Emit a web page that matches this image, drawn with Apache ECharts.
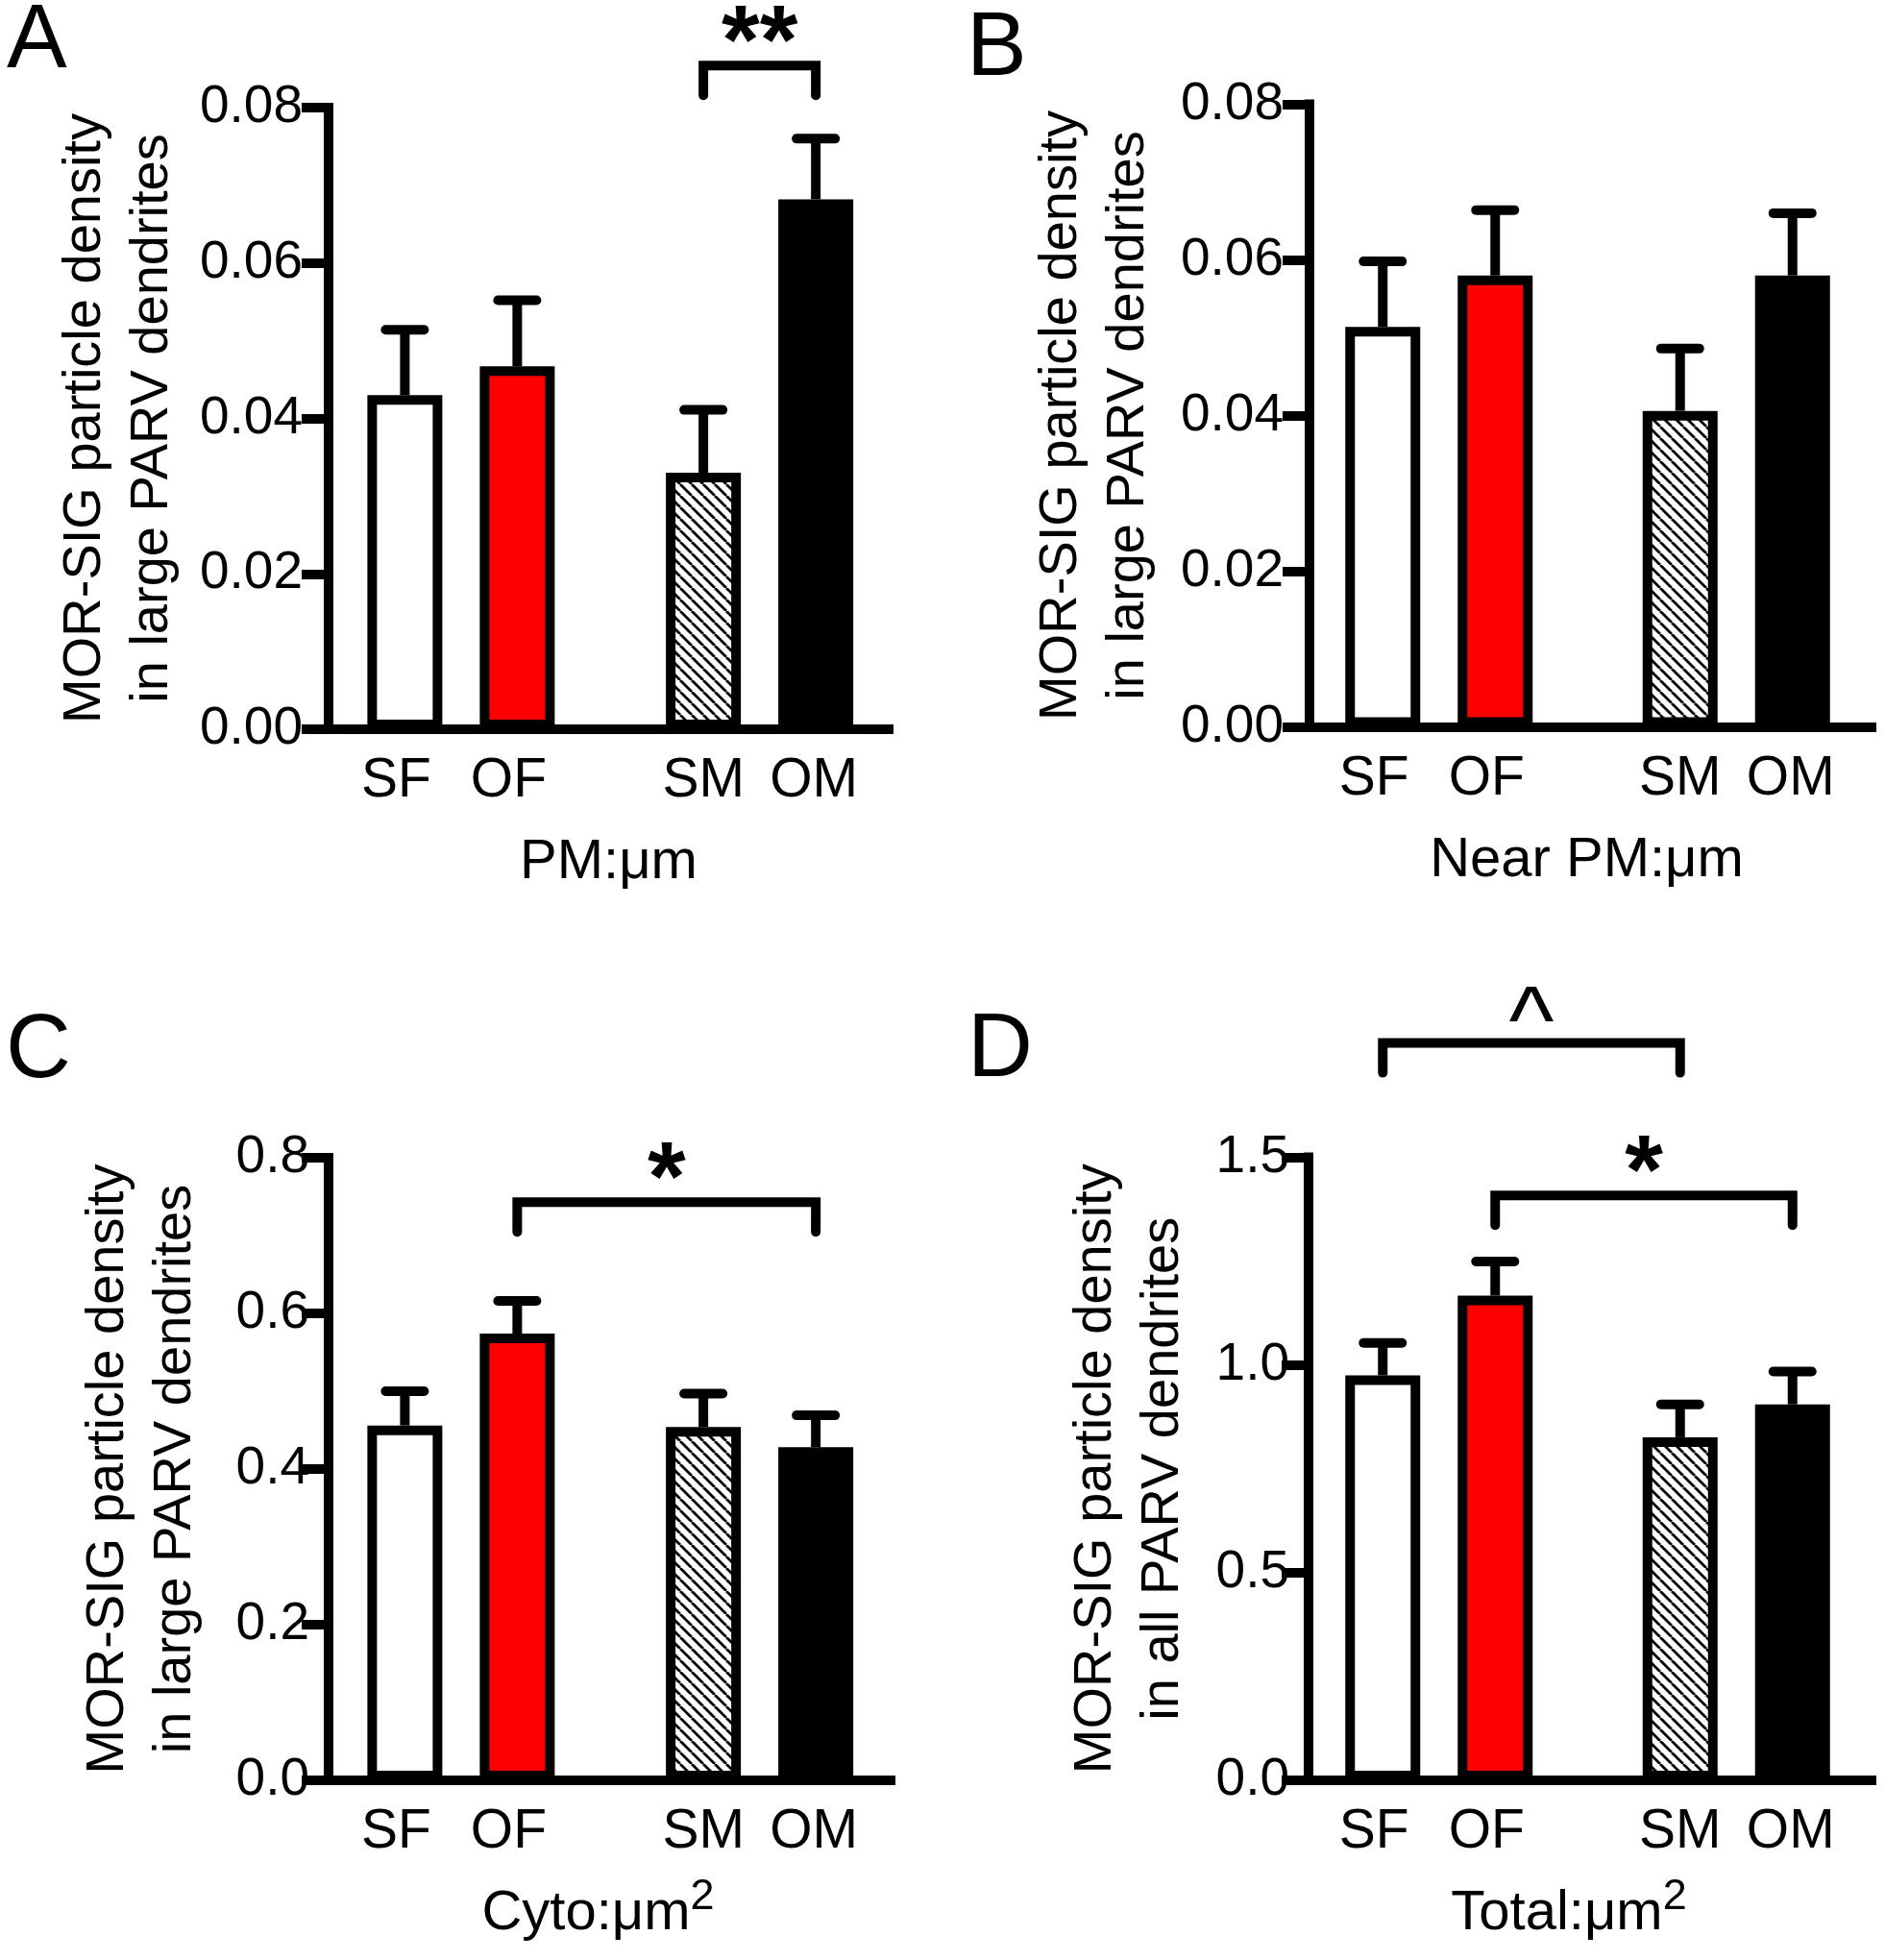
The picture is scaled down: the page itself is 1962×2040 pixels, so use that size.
<!DOCTYPE html>
<html><head><meta charset="utf-8">
<script src="https://cdn.jsdelivr.net/npm/echarts@6/dist/echarts.min.js"></script>
<style>html,body{margin:0;padding:0;background:#fff}#c{width:1962px;height:2040px}</style>
</head><body><div id="c"></div>
<script>
// ---------------- data ----------------
const barLabels = ['SF', 'OF', 'SM', 'OM'];
const sexGroups = ['F', 'M'];
const meanA  = [0.0430, 0.0467, 0.0330, 0.0682];
const upperA = [0.0514, 0.0552, 0.0411, 0.0760];
const meanB  = [0.0514, 0.0580, 0.0406, 0.0580];
const upperB = [0.0598, 0.0664, 0.0486, 0.0660];
const meanC  = [0.456, 0.574, 0.454, 0.428];
const upperC = [0.500, 0.616, 0.497, 0.469];
const meanD  = [0.975, 1.167, 0.826, 0.905];
const upperD = [1.053, 1.249, 0.905, 0.984];
const ticksAB = [0, 0.02, 0.04, 0.06, 0.08];
const ticksC  = [0, 0.2, 0.4, 0.6, 0.8];
const ticksD  = [0, 0.5, 1.0, 1.5];
const xNames = ['PM:μm', 'Near PM:μm', 'Cyto:μm²', 'Total:μm²'];
const yNames = ['MOR-SIG particle density\nin large PARV dendrites',
                'MOR-SIG particle density\nin large PARV dendrites',
                'MOR-SIG particle density\nin large PARV dendrites',
                'MOR-SIG particle density\nin all PARV dendrites'];
const panelLetters = ['A', 'B', 'C', 'D'];
// significance brackets: [from, to, level (data units), mark]
const bracketsA = [['SM', 'OM', 0.0854, '**']];
const bracketsB = [];
const bracketsC = [['OF', 'OM', 0.743, '*']];
const bracketsD = [['SF', 'SM', 1.775, '^'], ['OF', 'OM', 1.408, '*']];

// ---------------- styles / layout ----------------
const FONT = '"Liberation Sans", Arial, Helvetica, sans-serif';
const BAR_W = 78, BAR_GAP = 0.5, BORDER = 10;
const SPACING = BAR_W * (1 + BAR_GAP);
function makeHatch() {
  const s = 12, c = document.createElement('canvas');
  c.width = s; c.height = s;
  const g = c.getContext('2d');
  g.fillStyle = '#fff'; g.fillRect(0, 0, s, s);
  g.strokeStyle = '#000'; g.lineWidth = 2.8;
  g.beginPath();
  for (let k = -1; k <= 1; k++) { g.moveTo(k * s, 0); g.lineTo(k * s + s, s); }
  g.stroke();
  return c;
}
const fills = ['#ffffff', '#ff0000', { image: makeHatch(), repeat: 'repeat' }, '#000000'];
const labelShift = [-9, -9, 0, -2];

const layouts = [
  { axisX: 342, axisEnd: 925, top: 112, bottom: 759, barLeft: 324.5, barWidth: 621.5, letterLeft: 7, letterTop: -3, nameGap: 148, labelMargin: 27, dec: 2, tickFont: 55, xShift: 0 },
  { axisX: 1363, axisEnd: 1948, top: 108.5, bottom: 756.5, barLeft: 1343, barWidth: 623, letterLeft: 1006, letterTop: 5, nameGap: 153, labelMargin: 27, dec: 2, tickFont: 55, xShift: -4 },
  { axisX: 342, axisEnd: 927, top: 1205, bottom: 1853, barLeft: 324.5, barWidth: 621.5, letterLeft: 6, letterTop: 1048, nameGap: 124, labelMargin: 20, dec: 1, tickFont: 55, xShift: -12 },
  { axisX: 1362, axisEnd: 1948, top: 1204.5, bottom: 1853, barLeft: 1343, barWidth: 623, letterLeft: 1007, letterTop: 1047, nameGap: 116, labelMargin: 20, dec: 1, tickFont: 55, xShift: -22 }
];
const panelData = [
  { mean: meanA, upper: upperA, ticks: ticksAB, brackets: bracketsA },
  { mean: meanB, upper: upperB, ticks: ticksAB, brackets: bracketsB },
  { mean: meanC, upper: upperC, ticks: ticksC, brackets: bracketsC },
  { mean: meanD, upper: upperD, ticks: ticksD, brackets: bracketsD }
];

const groupOf = i => i >> 1;   // SF,OF -> F ; SM,OM -> M
const treatOf = i => i % 2;    // S -> 0 ; O -> 1

const option = { animation: false, backgroundColor: '#fff', title: [], grid: [], xAxis: [], yAxis: [], series: [] };

panelData.forEach((pd, p) => {
  const L = layouts[p];
  const ymin = pd.ticks[0], ymax = pd.ticks[pd.ticks.length - 1], yint = pd.ticks[1] - pd.ticks[0];
  const gAxes = p * 2, gBars = p * 2 + 1;

  option.title.push({ text: panelLetters[p], left: L.letterLeft, top: L.letterTop, padding: 0,
    textStyle: { fontSize: 94, fontWeight: 'normal', fontFamily: FONT, color: '#000' } });

  option.grid.push({ left: L.axisX, top: L.top, width: L.axisEnd - L.axisX, height: L.bottom - L.top });
  option.grid.push({ left: L.barLeft, top: L.top, width: L.barWidth, height: L.bottom - L.top });

  let xn = xNames[p];
  xn = xn.includes('²') ? '{m|' + xn.replace('²', '') + '}{s|2}' : '{m|' + xn + '}';
  option.xAxis.push({
    gridIndex: gAxes, type: 'value', min: 0, max: 1,
    axisLine: { show: true, lineStyle: { color: '#000', width: 10, cap: 'square' } },
    axisTick: { show: false }, axisLabel: { show: false }, splitLine: { show: false },
    name: xn, nameLocation: 'middle', nameGap: 99,
    nameTextStyle: { padding: [0, -2 * L.xShift, 0, 0], rich: {
      m: { fontSize: 58, lineHeight: 80, fontFamily: FONT, color: '#000' },
      s: { fontSize: 45, lineHeight: 45, fontFamily: FONT, color: '#000', verticalAlign: 'top' } } }
  });
  option.xAxis.push({ gridIndex: gBars, type: 'category', data: sexGroups, show: false });

  option.yAxis.push({
    gridIndex: gAxes, type: 'value', min: ymin, max: ymax, interval: yint,
    axisLine: { show: true, lineStyle: { color: '#000', width: 10, cap: 'square' } },
    axisTick: { show: true, length: 28, lineStyle: { color: '#000', width: 10 } },
    axisLabel: { show: true, margin: L.labelMargin, fontSize: L.tickFont, fontFamily: FONT, color: '#000',
      formatter: v => v.toFixed(L.dec) },
    splitLine: { show: false },
    name: yNames[p], nameLocation: 'middle', nameGap: L.nameGap,
    nameTextStyle: { fontSize: 56, lineHeight: 70, fontFamily: FONT, color: '#000' }
  });
  option.yAxis.push({ gridIndex: gBars, type: 'value', min: ymin, max: ymax, show: false });

  const xi = p * 2 + 1, yi = p * 2 + 1;
  ['Saline', 'Oxycodone'].forEach((name, t) => {
    const idx = barLabels.map((_, i) => i).filter(i => treatOf(i) === t);
    option.series.push({
      type: 'bar', name, xAxisIndex: xi, yAxisIndex: yi,
      barWidth: BAR_W, barGap: (BAR_GAP * 100) + '%', z: 2,
      itemStyle: { borderColor: '#000', borderWidth: BORDER },
      label: { show: true, position: 'bottom', distance: 26, fontSize: 57, fontFamily: FONT, color: '#000',
        formatter: prm => barLabels[idx[prm.dataIndex]] },
      data: idx.map(i => ({ value: pd.mean[i], itemStyle: { color: fills[i] }, label: { offset: [labelShift[i], 0] } }))
    });
  });

  option.series.push({
    type: 'custom', xAxisIndex: xi, yAxisIndex: yi, z: 3, clip: false,
    encode: { x: 0, y: [1, 2] },
    data: barLabels.map((_, i) => [groupOf(i), pd.mean[i], pd.upper[i], treatOf(i)]),
    renderItem: (params, api) => {
      const g = api.value(0), m = api.value(1), u = api.value(2), t = api.value(3);
      const b = api.coord([g, m]), top = api.coord([g, u]);
      const x = b[0] + (t - 0.5) * SPACING;
      return { type: 'group', children: [
        { type: 'line', shape: { x1: x, y1: b[1], x2: x, y2: top[1] }, style: { stroke: '#000', lineWidth: 10 } },
        { type: 'line', shape: { x1: x - 20, y1: top[1], x2: x + 20, y2: top[1] }, style: { stroke: '#000', lineWidth: 10, lineCap: 'round' } }
      ] };
    }
  });

  if (pd.brackets.length) {
    option.series.push({
      type: 'custom', xAxisIndex: xi, yAxisIndex: yi, z: 3, clip: false,
      encode: { x: 0, y: 4 },
      data: pd.brackets.map(br => {
        const a = barLabels.indexOf(br[0]), b = barLabels.indexOf(br[1]);
        return [groupOf(a), treatOf(a), groupOf(b), treatOf(b), br[2]];
      }),
      renderItem: (params, api) => {
        const mark = pd.brackets[params.dataIndex][3];
        const p1 = api.coord([api.value(0), api.value(4)]), p2 = api.coord([api.value(2), api.value(4)]);
        const x1 = p1[0] + (api.value(1) - 0.5) * SPACING, x2 = p2[0] + (api.value(3) - 0.5) * SPACING, y = p1[1];
        const isCaret = mark === '^';
        return { type: 'group', children: [
          { type: 'polyline', shape: { points: [[x1, y + 31], [x1, y], [x2, y], [x2, y + 31]] },
            style: { stroke: '#000', lineWidth: 10, fill: null, lineCap: 'round', lineJoin: 'miter' } },
          { type: 'text', x: (x1 + x2) / 2, y: y - (isCaret ? 17 : 20),
            style: { text: mark, fill: '#000', align: 'center', verticalAlign: 'middle',
              font: (isCaret ? 'normal 100px ' : 'bold 102px ') + FONT } }
        ] };
      }
    });
  }
});

const chart = echarts.init(document.getElementById('c'), null, { renderer: 'canvas', width: 1962, height: 2040 });
chart.setOption(option);
</script></body></html>
